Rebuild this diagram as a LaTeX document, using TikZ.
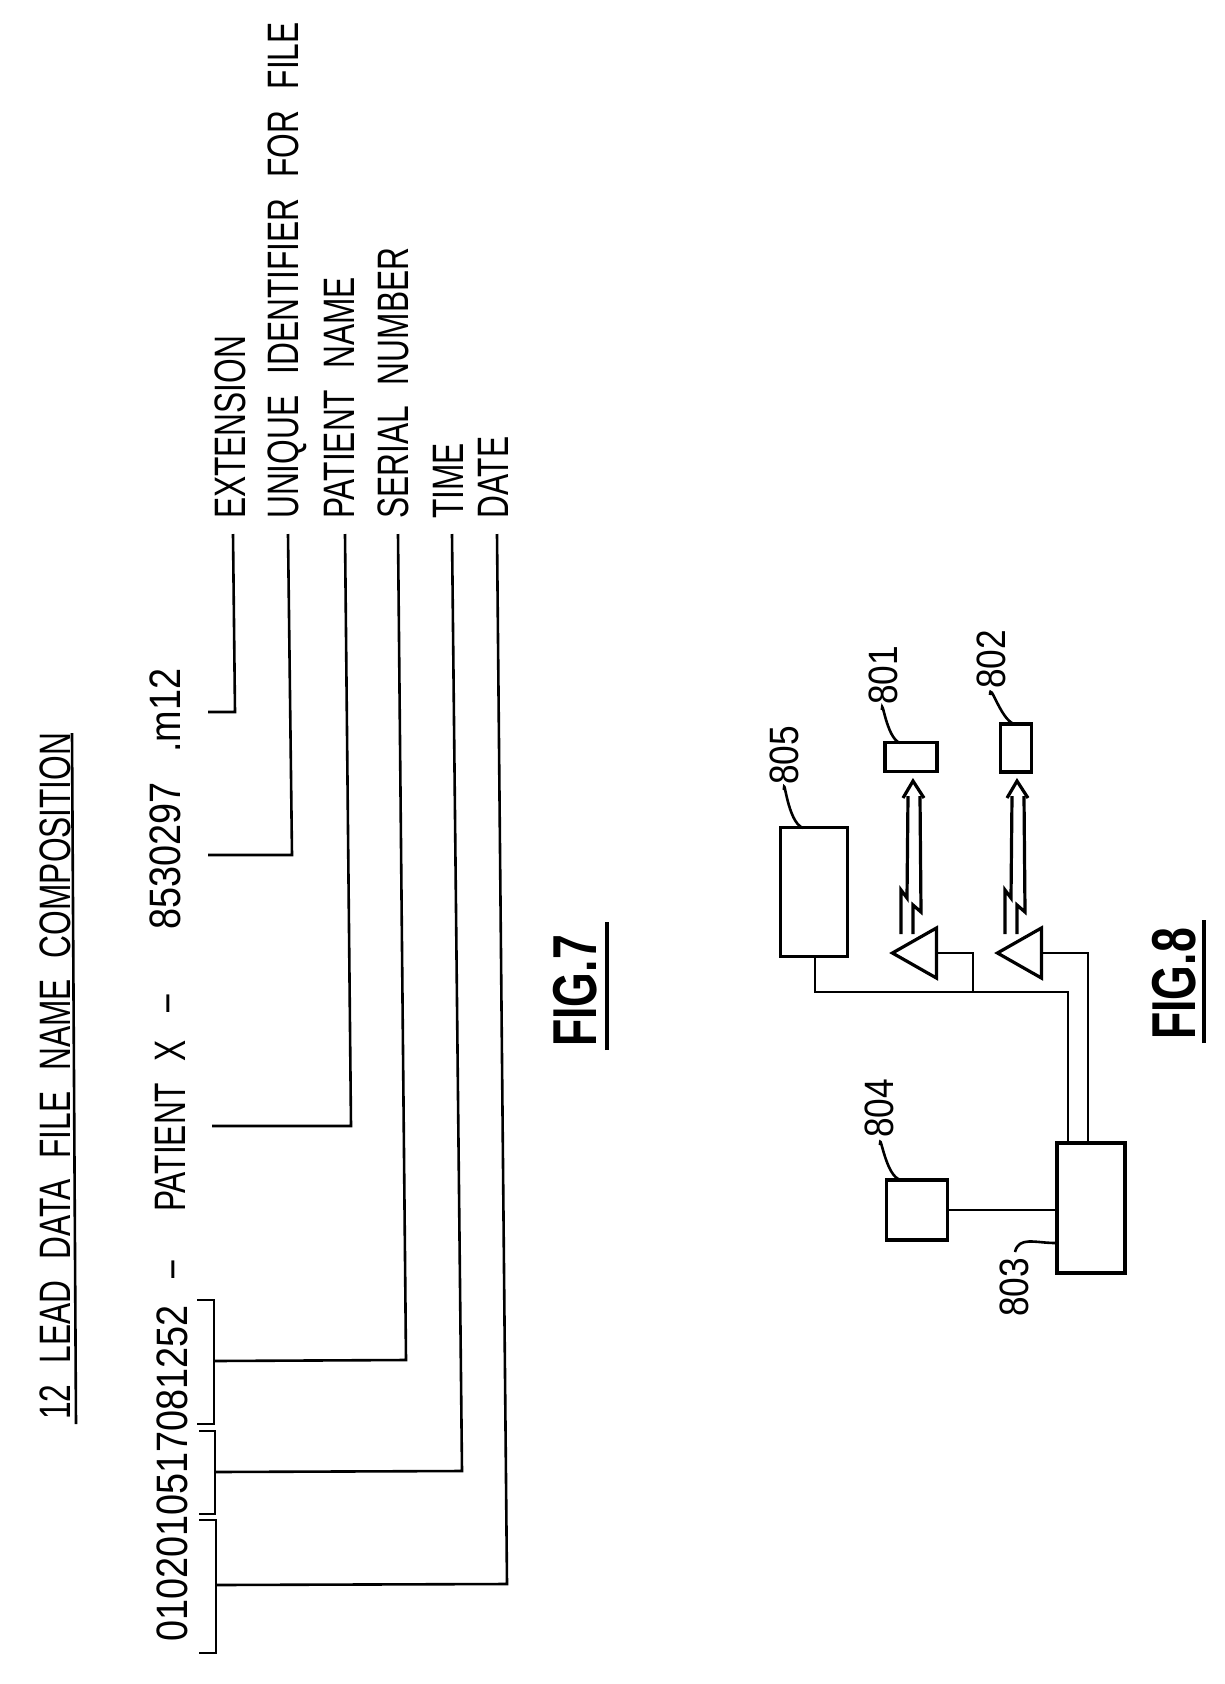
\documentclass[tikz,border=0pt]{standalone}
\usepackage{fontspec}
\usepackage{tikz}
\usetikzlibrary{shapes.geometric}
\setmainfont[FakeStretch=0.72,WordSpace=2.4]{Liberation Sans}
\newfontfamily\digitfont[FakeStretch=0.86]{Liberation Sans}
\tikzset{
  wire/.style={line width=2.6pt},
  link/.style={line width=3.2pt},
  fieldtext/.style={rotate=90,anchor=base west,inner sep=0pt,font=\fontsize{44}{44}\selectfont},
  digittext/.style={rotate=90,anchor=base west,inner sep=0pt,font=\digitfont\fontsize{44}{44}\selectfont},
  refnum/.style={rotate=90,anchor=base west,inner sep=0pt,font=\digitfont\fontsize{41}{41}\selectfont},
  figlabel/.style={rotate=90,anchor=base west,inner sep=0pt,font=\fontsize{62}{62}\selectfont\bfseries},
  block/.style={draw,line width=3.2pt,inner sep=0pt},
  amp/.style={draw,line width=3.2pt,inner sep=0pt,isosceles triangle,isosceles triangle stretches,shape border rotate=180,minimum width=50pt,minimum height=44pt,anchor=lower side}
}
\begin{document}
\begin{tikzpicture}[x=1pt,y=-1pt]
  \useasboundingbox (0,0) rectangle (1224,1684);
  % FIG.7 heading
  \node[fieldtext] (title) at (70,1420) {12 LEAD DATA FILE NAME COMPOSITION};
  \draw[wire] (76,1424) -- (72,733);
  % file name parts
  \node[digittext] (stamp) at (187,1642) {0102010517081252};
  \node[fieldtext] (dashone) at (184,1279) {--};
  \node[fieldtext] (patient) at (185,1212) {PATIENT X};
  \node[fieldtext] (dashtwo) at (179,1013) {--};
  \node[digittext] (serialno) at (180,930) {8530297};
  \node[digittext] (ext) at (180,753) {.m12};
  % field names
  \node[fieldtext] (lblext) at (245,519) {EXTENSION};
  \node[fieldtext] (lbluid) at (298,519) {UNIQUE IDENTIFIER FOR FILE};
  \node[fieldtext] (lblname) at (354,519) {PATIENT NAME};
  \node[fieldtext] (lblserial) at (408,519) {SERIAL NUMBER};
  \node[fieldtext] (lbltime) at (463,519) {TIME};
  \node[fieldtext] (lbldate) at (508,519) {DATE};
  % brackets under the stamp
  \coordinate (brserial) at (214,1361);
  \coordinate (brtime) at (215,1472);
  \coordinate (brdate) at (216,1585);
  \draw[wire] (197,1300) -- (214,1300) -- (brserial) -- (214,1424) -- (197,1424);
  \draw[wire] (199,1431) -- (215,1431) -- (brtime) -- (215,1514) -- (199,1514);
  \draw[wire] (199,1520) -- (216,1520) -- (brdate) -- (216,1653) -- (199,1653);
  % leaders
  \draw[wire] (233,534) -- (235,712) -- (208,712);
  \draw[wire] (288,534) -- (292,855) -- (208,855);
  \draw[wire] (345,534) -- (351,1126) -- (212,1126);
  \draw[wire] (398,534) -- (406,1360) -- (brserial);
  \draw[wire] (452,534) -- (462,1471) -- (brtime);
  \draw[wire] (497,534) -- (507,1584) -- (brdate);
  % FIG.7 caption
  \node[figlabel] (figseven) at (596,1047) {FIG.7};
  \draw[line width=4pt] (607,1050) -- (607,922);
  % FIG.8 units
  \node[block,minimum width=67pt,minimum height=129pt] (box805) at (814,892) {};
  \node[block,minimum width=52pt,minimum height=29pt] (box801) at (911,757) {};
  \node[block,minimum width=31pt,minimum height=48pt] (box802) at (1016,748) {};
  \node[block,minimum width=68pt,minimum height=130pt] (box803) at (1091,1208) {};
  \node[block,minimum width=61pt,minimum height=60pt] (box804) at (917,1210) {};
  \node[amp] (amp801) at (938,953) {};
  \node[amp] (amp802) at (1043,953) {};
  % wiring
  \coordinate (busleft) at (815,992);
  \coordinate (busmid) at (973,992);
  \coordinate (busright) at (1068,992);
  \draw[wire] (box805.south) ++(1,0) -- (busleft) -- (busright) -- (busright |- box803.north);
  \draw[wire] (amp801.lower side) -| (busmid);
  \draw[wire] (amp802.lower side) -| (1088,1143);
  \draw[wire] (box804.east) -- (box803.west |- box804.east);
  % radio links
  \coordinate (tip801) at (913,781);
  \coordinate (tip802) at (1017,781);
  \draw[link] (tip801) ++(-10,17) -- (tip801) -- ++(11,17);
  \draw[link] (tip801) ++(-5,15) -- ++(-1,102) -- ++(-6,-8) -- ++(0,44);
  \draw[link] (tip801) ++(7,15) -- ++(1,116) -- ++(-8,-7) -- ++(0,29);
  \draw[link] (tip802) ++(-10,17) -- (tip802) -- ++(11,17);
  \draw[link] (tip802) ++(-5,15) -- ++(-1,102) -- ++(-6,-8) -- ++(0,44);
  \draw[link] (tip802) ++(7,15) -- ++(1,116) -- ++(-8,-7) -- ++(0,29);
  % reference numbers
  \node[refnum] (num805) at (798,785) {805};
  \node[refnum] (num801) at (897,705) {801};
  \node[refnum] (num802) at (1005,689) {802};
  \node[refnum] (num804) at (893,1138) {804};
  \node[refnum] (num803) at (1028,1317) {803};
  \draw[wire] (784,790) to[out=90,in=160] (803,828);
  \draw[wire] (882,710) to[out=90,in=160] (900,743);
  \draw[wire] (990,695) to[out=90,in=160] (1014,724);
  \draw[wire] (880,1145) to[out=90,in=170] (901,1180);
  \draw[wire] (1015,1252) .. controls (1019,1236) and (1035,1243) .. (box803.west |- 0,1243);
  % FIG.8 caption
  \node[figlabel] (figeight) at (1195,1040) {FIG.8};
  \draw[line width=4pt] (1204,1043) -- (1204,920);
\end{tikzpicture}
\end{document}
